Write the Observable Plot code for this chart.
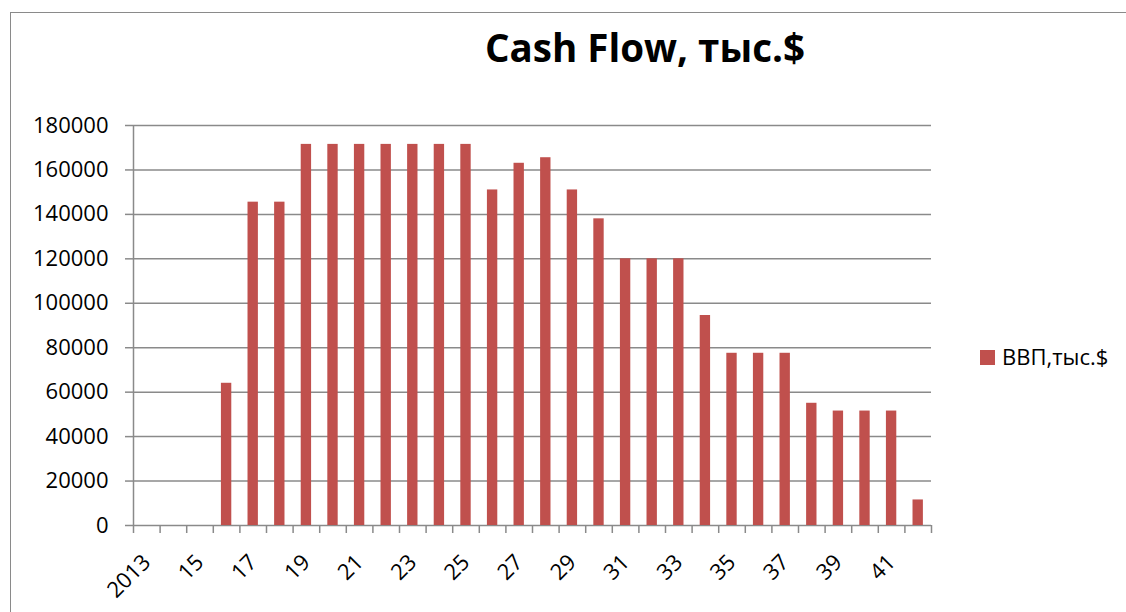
<!DOCTYPE html>
<html>
<head>
<meta charset="utf-8">
<script src="https://cdn.jsdelivr.net/npm/d3@7"></script>
<script src="https://cdn.jsdelivr.net/npm/@observablehq/plot@0.6"></script>
<style>
  html, body { margin: 0; padding: 0; background: #fff; }
  #wrap { position: relative; width: 1126px; height: 612px; overflow: hidden; font-family: "Open Sans", sans-serif; }
  #frame { position: absolute; left: 10px; top: 12px; width: 1300px; height: 800px; border: 1.5px solid #8a8a8a; box-sizing: border-box; }
  #title { position: absolute; left: 485px; top: 27px; font-size: 39px; font-weight: 700; line-height: 1; white-space: nowrap; transform-origin: 0 0; color: #000; }
  #legend { position: absolute; left: 980px; top: 345px; display: flex; align-items: flex-start; font-size: 22px; line-height: 1; white-space: nowrap; }
  #legend .sw { width: 15px; height: 15px; background: #C0504D; margin-top: 5px; margin-right: 7px; }
  #chart { position: absolute; left: 0; top: 0; }
</style>
</head>
<body>
<div id="wrap">
  <div id="frame"></div>
  <div id="chart"></div>
  <div id="title">Cash Flow, тыс.$</div>
  <div id="legend"><div class="sw"></div><div id="legtext">ВВП,тыс.$</div></div>
</div>
<script>
const categories = ["2013","14","15","16","17","18","19","20","21","22","23","24","25","26","27","28","29","30","31","32","33","34","35","36","37","38","39","40","41","42"];
const values = [0,0,0,64000,145500,145500,171500,171500,171500,171500,171500,171500,171500,151000,163000,165500,151000,138000,120000,120000,120000,94500,77500,77500,77500,55000,51500,51500,51500,11500];
const yTicks = [0,20000,40000,60000,80000,100000,120000,140000,160000,180000];
const seriesName = "ВВП,тыс.$";

const data = categories.map((c, i) => ({i, cat: c, value: values[i]}));
const labelData = data.filter(d => d.i % 2 === 0);
const boundaries = d3.range(categories.length + 1);
const pad = 0.305;

const chart = Plot.plot({
  width: 1126,
  height: 612,
  marginTop: 125,
  marginBottom: 87,
  marginLeft: 133,
  marginRight: 195,
  style: {fontFamily: "'Open Sans', sans-serif", background: "transparent", color: "#000"},
  x: {type: "linear", domain: [0, categories.length], axis: null},
  y: {domain: [0, 180000], axis: null},
  marks: [
    Plot.gridY(yTicks, {stroke: "#8a8a8a", strokeOpacity: 1, strokeWidth: 1.5}),
    Plot.axisY({ticks: yTicks, label: null, tickSize: 8, tickPadding: 17, stroke: "#8a8a8a", strokeWidth: 1.5, fontSize: 22, tickFormat: d => String(d), fill: "#000"}),
    Plot.ruleX([0], {stroke: "#8a8a8a", strokeWidth: 1.5}),
    Plot.axisX({ticks: boundaries, label: null, tickSize: 8, tickFormat: () => "", stroke: "#8a8a8a", strokeWidth: 1.5}),
    Plot.rectY(data, {x1: d => d.i + pad, x2: d => d.i + 1 - pad, y: "value", fill: "#C0504D"}),
    Plot.text(labelData, {x: d => d.i + 0.5, frameAnchor: "bottom", text: "cat", rotate: -45, textAnchor: "end", lineAnchor: "bottom", dx: 5, dy: 38, fontSize: 22, fill: "#000"})
  ]
});
document.getElementById("chart").appendChild(chart);
document.getElementById("legtext").textContent = seriesName;

const t = document.getElementById("title");
const w = t.getBoundingClientRect().width;
t.style.transform = `scaleX(${320 / w})`;
</script>
</body>
</html>
